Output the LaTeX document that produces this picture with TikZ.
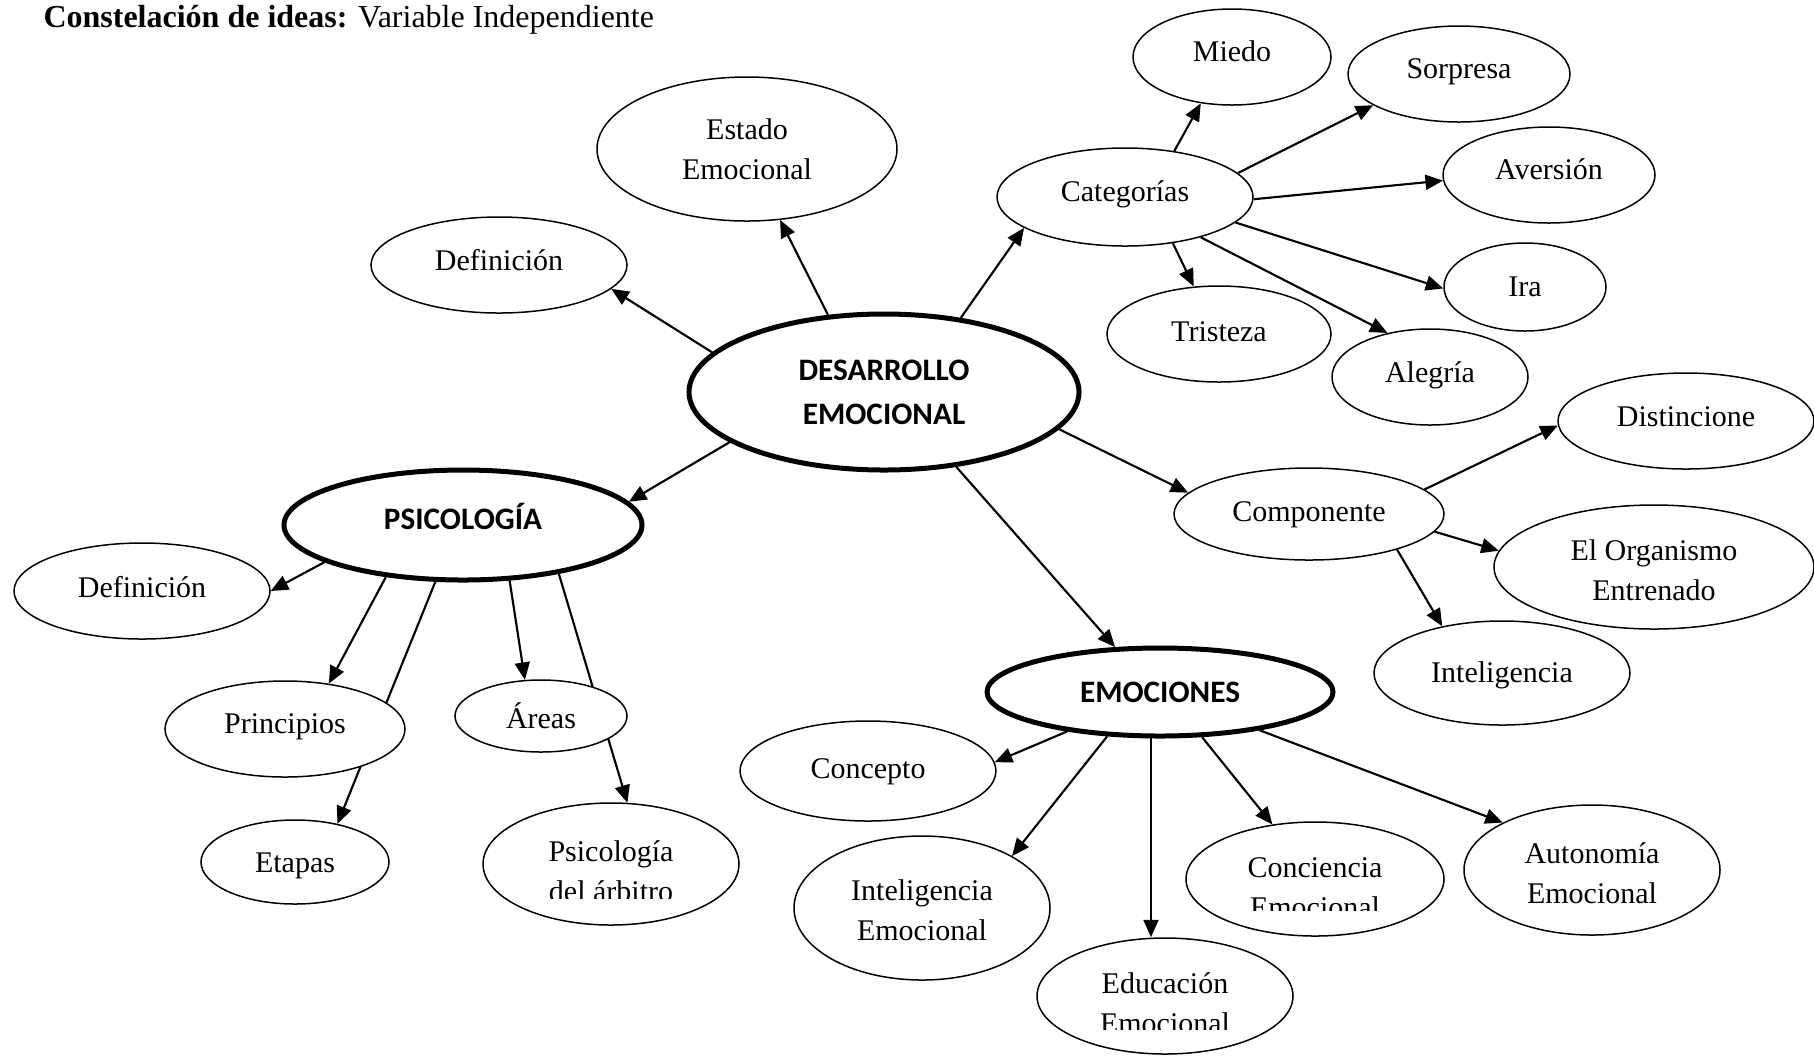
\documentclass[tikz,border=0pt]{standalone}
\usepackage{fontspec}
\setmainfont{Liberation Serif}
\newfontfamily\headfont{Carlito}
\usetikzlibrary{shapes.geometric,arrows.meta,backgrounds}
\begin{document}
\begin{tikzpicture}[x=0.4pt,y=-0.4pt,
  e/.style 2 args={minimum width=#1*0.8pt,minimum height=#2*0.8pt},
  % fixed text box so the baseline sits where it should in one-line ellipses
  tb/.style={text height=10pt,text depth=#1},
  word/.style={inner sep=0pt,font=\fontsize{12}{16.2}\selectfont},
  idea/.style={ellipse,draw,line width=0.6pt,fill=white,inner sep=0pt,
    align=center,font=\fontsize{12}{16.2}\selectfont},
  hub/.style={ellipse,draw,line width=2pt,fill=white,inner sep=0pt,
    align=center,font=\headfont\bfseries\fontsize{12.5}{17.6}\selectfont},
  link/.style={line width=0.85pt,-{Triangle[length=7pt,width=6pt]}}]
\useasboundingbox (0,0) rectangle (1814,1056);

% heading
\node[inner sep=0pt,anchor=base west,font=\fontsize{12.8}{15}\selectfont] (title) at (43,27)
  {\textbf{Constelación de ideas:} Variable Independiente};

% main concepts
\node[hub,e={195}{78}] (de) at (884,392) {DESARROLLO\\EMOCIONAL};
\node[hub,e={179}{55},tb=6.4pt] (psi) at (463,525) {PSICOLOGÍA};
\node[hub,e={173}{44}] (emo) at (1160,692) {EMOCIONES};

% around DESARROLLO EMOCIONAL
\node[idea,e={150}{72}] (estado) at (747,149) {Estado\\Emocional};
\node[idea,e={128}{48},tb=5.4pt] (defa) at (499,265) {Definición};
\node[idea,e={128}{49},tb=6.2pt] (cat) at (1125,197) {Categorías};
\node[idea,e={135}{46},tb=3.8pt] (comp) at (1309,514) {Componente};

% categories
\node[idea,e={99}{48},tb=6.4pt] (miedo) at (1232,57) {Miedo};
\node[idea,e={111}{48},tb=6.5pt] (sorp) at (1459,74) {Sorpresa};
\node[idea,e={106}{48},tb=6.6pt] (avers) at (1549,175) {Aversión};
\node[idea,e={81}{44},tb=2.1pt] (ira) at (1525,287) {Ira};
\node[idea,e={112}{48},tb=3.9pt] (trist) at (1219,334) {Tristeza};
\node[idea,e={98}{48},tb=5.4pt] (aleg) at (1430,377) {Alegría};

% components
\node[idea,e={128}{48},tb=5.4pt] (dist) at (1686,421) {Distincione};
\node[idea,e={160}{62},text height=27.2pt] (organ) at (1654,567) {El Organismo\\Entrenado};
\node[idea,e={128}{52},tb=2.6pt] (intel) at (1502,673) {Inteligencia};

% emotions
\node[idea,e={128}{50},tb=3.8pt] (concep) at (868,771) {Concepto};
\node[idea,e={128}{72},text height=26.4pt] (intem) at (922,908) {Inteligencia\\Emocional};
\node[idea,e={128}{58}] (educ) at (1165,996) {};
\node[idea,e={129}{57}] (conc) at (1315,879) {};
\node[idea,e={128}{65},text height=27.2pt] (auton) at (1592,870) {Autonomía\\Emocional};

% psychology
\node[idea,e={128}{48},tb=4.6pt] (defb) at (142,591) {Definición};
\node[idea,e={120}{48},tb=6.5pt] (princ) at (285,729) {Principios};
\node[idea,e={86}{36}] (areas) at (541,716) {Áreas};
\node[idea,e={94}{42},tb=1.9pt] (etapas) at (295,862) {Etapas};
\node[idea,e={128}{61}] (arbit) at (611,864) {};

% labels whose second line is cut off by the box
\node[word,anchor=base] (arbA) at (611,861) {Psicología};
\begin{scope}
  \clip (480,870) rectangle (740,898);
  \node[word,anchor=base] (arbB) at (611,901) {del árbitro};
\end{scope}
\node[word,anchor=base] (concA) at (1315,877) {Conciencia};
\begin{scope}
  \clip (1190,885) rectangle (1440,910);
  \node[word,anchor=base] (concB) at (1315,917) {Emocional};
\end{scope}
\node[word,anchor=base] (educA) at (1165,993) {Educación};
\begin{scope}
  \clip (1040,1000) rectangle (1290,1029);
  \node[word,anchor=base] (educB) at (1165,1033) {Emocional};
\end{scope}

% connectors, kept behind the filled ellipses
\begin{pgfonlayer}{background}
\draw[link] (de.167) -- (defa.-12);
\draw[link] (de.126) -- (estado.-65);
\draw[link] (de.44) -- (cat.197);
\draw[link] (de.-12) -- (comp.170);
\draw[link] (de.-46) -- (emo.135);
\draw[link] (de.198) -- (psi.8);

\draw[link] (cat.43) -- (miedo.-124);
\draw[link] (cat.12) -- (sorp.200);
\draw[link] (cat.-1) -- (avers.183);
\draw[link] (cat.-13) -- (ira.181);
\draw[link] (cat.-44) -- (trist.118);
\draw[link] (cat.-28) -- (aleg.134);

\draw[link] (comp.12) -- (dist.182);
\draw[link] (comp.-8) -- (organ.174);
\draw[link] (comp.-22) -- (intel.142);

\draw[link] (emo.203) -- (concep.4);
\draw[link] (emo.220) -- (intem.30);
\draw[link] (emo.259) -- (emo.259 |- educ.north);
\draw[link] (emo.-47) -- (conc.128);
\draw[link] (emo.-21) -- (auton.152);

\draw[link] (psi.195) -- (defb.0);
\draw[link] (psi.214) -- (princ.46);
\draw[link] (psi.244) -- (etapas.42);
\draw[link] (psi.-50) -- (areas.114);
\draw[link] (psi.-27) -- (arbit.75);
\end{pgfonlayer}
\end{tikzpicture}
\end{document}
